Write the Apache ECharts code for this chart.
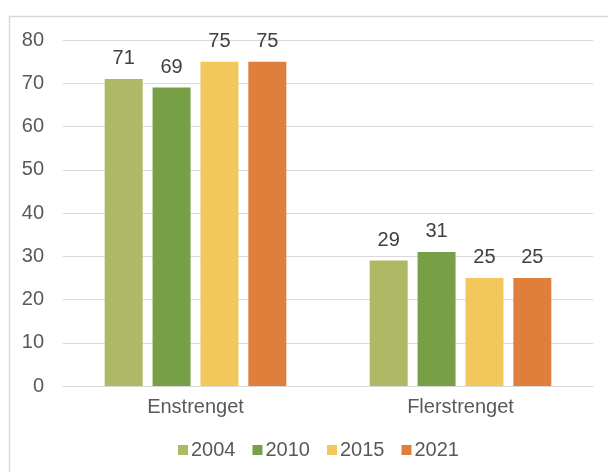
<!DOCTYPE html>
<html>
<head>
<meta charset="utf-8">
<script src="https://cdn.jsdelivr.net/npm/echarts@6/dist/echarts.min.js"></script>
<style>
  html, body { margin: 0; padding: 0; background: #fff; }
  #main { width: 608px; height: 472px; }
</style>
</head>
<body>
<div id="main"></div>
<script>
var categories = ["Enstrenget", "Flerstrenget"];
var years = ["2004", "2010", "2015", "2021"];
var values2004 = [71, 29];
var values2010 = [69, 31];
var values2015 = [75, 25];
var values2021 = [75, 25];
var colors = ["#AFB965", "#77A046", "#F2C75C", "#E07E3C"];

var allValues = [values2004, values2010, values2015, values2021];
var myChart = echarts.init(document.getElementById("main"));
myChart.setOption({
  animation: false,
  textStyle: { fontFamily: "Liberation Sans, Arial, sans-serif" },
  graphic: [
    {
      type: "rect",
      left: 7, top: 14,
      shape: { width: 610, height: 470 },
      style: { fill: "none", stroke: "#D9D9D9", lineWidth: 1.5 }
    }
  ],
  grid: { left: 63, right: 15, top: 40, bottom: 86 },
  legend: {
    bottom: 7,
    left: 173,
    itemWidth: 10,
    itemHeight: 10,
    itemGap: 17,
    icon: "rect",
    textStyle: { fontSize: 20, color: "#595959", padding: [0, 0, 0, -2] },
    data: years
  },
  xAxis: {
    type: "category",
    data: categories,
    axisLine: { lineStyle: { color: "#D9D9D9" } },
    axisTick: { show: false },
    axisLabel: { fontSize: 20, color: "#595959", margin: 11 }
  },
  yAxis: {
    type: "value",
    min: 0,
    max: 80,
    interval: 10,
    axisLine: { show: false },
    axisTick: { show: false },
    axisLabel: { fontSize: 20, color: "#595959", margin: 19 },
    splitLine: { lineStyle: { color: "#D9D9D9" } }
  },
  series: years.map(function (y, i) {
    return {
      name: y,
      type: "bar",
      data: allValues[i],
      barWidth: 38,
      barGap: "26%",
      itemStyle: { color: colors[i] },
      label: {
        show: true,
        position: "top",
        distance: 10,
        fontSize: 20,
        color: "#404040"
      }
    };
  })
});
</script>
</body>
</html>
